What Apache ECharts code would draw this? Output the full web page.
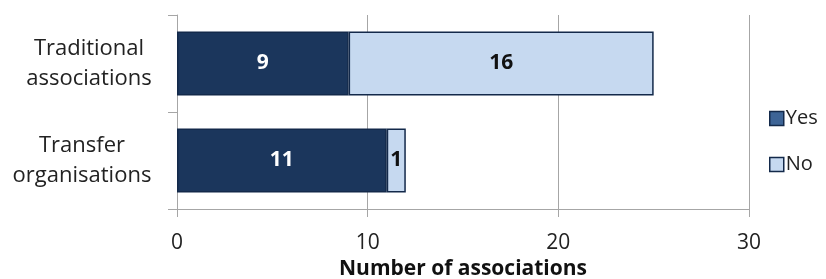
<!DOCTYPE html>
<html>
<head>
<meta charset="utf-8">
<script src="https://cdn.jsdelivr.net/npm/echarts@6/dist/echarts.min.js"></script>
<style>
  html, body { margin: 0; padding: 0; background: #fff; }
  #chart { width: 826px; height: 279px; }
</style>
</head>
<body>
<div id="chart"></div>
<script>
// categories, bottom to top (echarts draws first category at bottom)
var categories = ['Transfer\norganisations', 'Traditional\nassociations'];
var yesValues = [11, 9];
var noValues = [1, 16];
var xTicks = [0, 10, 20, 30];

var FONT = '"Open Sans", "Liberation Sans", sans-serif';

var myChart = echarts.init(document.getElementById('chart'));

// each category block is right aligned, its lines centred inside it
function catLabel(value, index) {
    var key = index === 0 ? 'b' : 'a';
    return value.split('\n').map(function (line) {
        return '{' + key + '|' + line + '}';
    }).join('\n');
}

var option = {
    animation: false,
    backgroundColor: '#fff',
    grid: { left: 177, right: 77, top: 15, bottom: 70, containLabel: false, outerBoundsMode: 'none' },
    legend: {
        orient: 'vertical',
        left: 769,
        top: 108,
        padding: 0,
        itemWidth: 14,
        itemHeight: 14,
        itemGap: 25,
        icon: 'rect',
        textStyle: { fontFamily: FONT, fontSize: 20, lineHeight: 21, color: '#222', padding: [0, 0, 0, -3] },
        data: [
            { name: 'Yes', itemStyle: { color: '#3d6496', borderColor: '#13294a', borderWidth: 1.5 } },
            { name: 'No', itemStyle: { color: '#c6d9f0', borderColor: '#13294a', borderWidth: 1.5 } }
        ]
    },
    xAxis: {
        type: 'value',
        min: xTicks[0],
        max: xTicks[xTicks.length - 1],
        interval: 10,
        name: 'Number of associations',
        nameLocation: 'middle',
        nameGap: 46,
        nameTextStyle: { fontFamily: FONT, fontSize: 21, fontWeight: 'bold', color: '#111' },
        axisLine: { show: true, lineStyle: { color: '#a6a6a6', width: 1 } },
        axisTick: { show: true, length: 8, lineStyle: { color: '#a6a6a6' } },
        axisLabel: { fontFamily: FONT, fontSize: 21, color: '#222', margin: 24 },
        splitLine: { show: true, lineStyle: { color: '#a6a6a6', width: 1 } }
    },
    yAxis: {
        type: 'category',
        data: categories,
        axisLine: { show: true, lineStyle: { color: '#a6a6a6', width: 1 } },
        axisTick: { show: true, length: 9, lineStyle: { color: '#a6a6a6' } },
        axisLabel: {
            align: 'right',
            margin: 25,
            formatter: catLabel,
            rich: {
                a: { fontFamily: FONT, fontSize: 22, color: '#222', lineHeight: 30, width: 126, align: 'center' },
                b: { fontFamily: FONT, fontSize: 22, color: '#222', lineHeight: 30, width: 140, align: 'center' }
            }
        }
    },
    series: [
        {
            name: 'Yes',
            type: 'bar',
            stack: 'total',
            barWidth: 64,
            data: yesValues,
            itemStyle: { color: '#1b365c', borderColor: '#13294a', borderWidth: 1.5 },
            label: { show: true, position: 'inside', color: '#fff', fontFamily: FONT, fontSize: 21, fontWeight: 'bold' }
        },
        {
            name: 'No',
            type: 'bar',
            stack: 'total',
            data: noValues,
            itemStyle: { color: '#c6d9f0', borderColor: '#13294a', borderWidth: 1.5 },
            label: { show: true, position: 'inside', color: '#111', fontFamily: FONT, fontSize: 21, fontWeight: 'bold' }
        }
    ]
};

myChart.setOption(option, true);
</script>
</body>
</html>
